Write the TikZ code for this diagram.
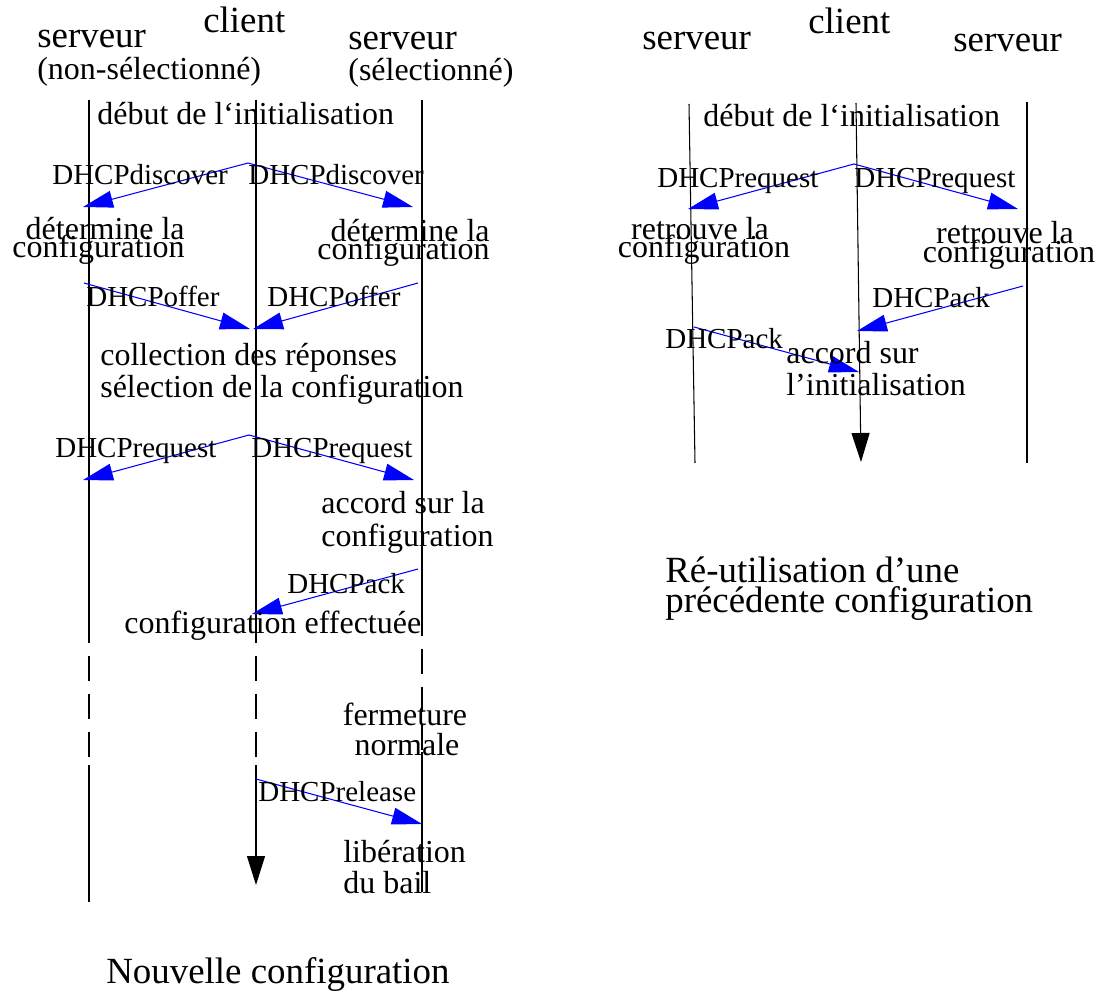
\documentclass[tikz,border=0pt]{standalone}
\usepackage{fontspec}
\setmainfont{Liberation Serif}
\usetikzlibrary{arrows.meta}

\begin{document}
\begin{tikzpicture}[x=0.02cm,y=-0.02cm,
		life/.style={line width=0.6pt,black},
		pointille/.style={dash pattern=on 0.5cm off 0.26cm,dash phase=0.5cm},
		msg/.style={blue,line width=0.6pt,-{Triangle[length=0.6cm,width=0.34cm]}},
		fin/.style={-{Triangle[length=0.58cm,width=0.36cm]}},
		grand/.style={inner sep=0pt,font=\fontsize{21}{25}\selectfont},
		moyen/.style={inner sep=0pt,font=\fontsize{18.2}{22}\selectfont},
		petit/.style={inner sep=0pt,font=\fontsize{16.5}{20}\selectfont}]
		\useasboundingbox (0,0) rectangle (1099,993);
		% nouvelle configuration : lignes de vie
		\coordinate (ns top) at (89,100);   \coordinate (ns d1) at (89,643);
		\coordinate (ns d2) at (89,765);    \coordinate (ns bot) at (89,902);
		\coordinate (nc top) at (256,100);  \coordinate (nc d1) at (256,643);
		\coordinate (nc d2) at (256,765);   \coordinate (nc bot) at (256,885);
		\coordinate (ss top) at (422,100);  \coordinate (ss d1) at (422,636);
		\coordinate (ss d2) at (422,752);   \coordinate (ss bot) at (422,892);
		\draw[life] (ns top) -- (ns d1);
		\draw[life,pointille] (ns d1) -- (ns d2);
		\draw[life] (ns d2) -- (ns bot);
		\draw[life] (nc top) -- (nc d1);
		\draw[life,pointille] (nc d1) -- (nc d2);
		\draw[life,fin] (nc d2) -- (nc bot);
		\draw[life] (ss top) -- (ss d1);
		\draw[life,pointille] (ss d1) -- (ss d2);
		\draw[life] (ss d2) -- (ss bot);
		% nouvelle configuration : messages
		\coordinate (disc) at (248,163); \coordinate (disc l) at (83,207); \coordinate (disc r) at (413,207);
		\coordinate (off l) at (84,283);  \coordinate (off lc) at (250,329);
		\coordinate (off r) at (418,283); \coordinate (off rc) at (253,329);
		\coordinate (req) at (249,435); \coordinate (req l) at (83,480); \coordinate (req r) at (414,480);
		\coordinate (ack) at (418,569); \coordinate (ack c) at (252,614);
		\coordinate (rel) at (256,779); \coordinate (rel s) at (422,824);
		\draw[msg] (disc) -- (disc l);
		\draw[msg] (disc) -- (disc r);
		\draw[msg] (off l) -- (off lc);
		\draw[msg] (off r) -- (off rc);
		\draw[msg] (req) -- (req l);
		\draw[msg] (req) -- (req r);
		\draw[msg] (ack) -- (ack c);
		\draw[msg] (rel) -- (rel s);
		% nouvelle configuration : textes
		\node[grand,anchor=base west] (t ns) at (37,48) {serveur};
		\node[moyen,anchor=base west] (t ns2) at (37,80) {(non-sélectionné)};
		\node[grand,anchor=base west] (t nc) at (203,33) {client};
		\node[grand,anchor=base west] (t ss) at (348,50) {serveur};
		\node[moyen,anchor=base west] (t ss2) at (348,81) {(sélectionné)};
		\node[moyen,anchor=base west] (t debut) at (97,125) {début de l`initialisation};
		\node[petit,anchor=base west] (l disc1) at (52,185) {DHCPdiscover};
		\node[petit,anchor=base west] (l disc2) at (248,185) {DHCPdiscover};
		\node[moyen,anchor=base east] (t det1) at (185,240) {détermine la};
		\node[moyen,anchor=base east] (t det2) at (185,258) {configuration};
		\node[moyen,anchor=base east] (t det3) at (490,242) {détermine la};
		\node[moyen,anchor=base east] (t det4) at (490,260) {configuration};
		\node[petit,anchor=base west] (l off1) at (86,307) {DHCPoffer};
		\node[petit,anchor=base west] (l off2) at (267,307) {DHCPoffer};
		\node[moyen,anchor=base west] (t coll) at (100,365) {collection des réponses};
		\node[moyen,anchor=base west] (t sel) at (100,397) {sélection de la configuration};
		\node[petit,anchor=base west] (l req1) at (55,457) {DHCPrequest};
		\node[petit,anchor=base west] (l req2) at (251,457) {DHCPrequest};
		\node[moyen,anchor=base west] (t acc1) at (321,513) {accord sur la};
		\node[moyen,anchor=base west] (t acc2) at (321,546) {configuration};
		\node[petit,anchor=base west] (l ack) at (287,593) {DHCPack};
		\node[moyen,anchor=base west] (t eff) at (124,633) {configuration effectuée};
		\node[moyen,anchor=base] (t ferm1) at (405,725) {fermeture};
		\node[moyen,anchor=base] (t ferm2) at (407,755) {normale};
		\node[petit,anchor=base west] (l rel) at (258,801) {DHCPrelease};
		\node[moyen,anchor=base west] (t lib1) at (343,862) {libération};
		\node[moyen,anchor=base west] (t lib2) at (343,893) {du bail};
		\node[grand,anchor=base west] (titre1) at (106,983) {Nouvelle configuration};
		% re-utilisation : lignes de vie
		\coordinate (rs top) at (689,104);  \coordinate (rs bot) at (695,463);
		\coordinate (rc top) at (856,103);  \coordinate (rc bot) at (861,462);
		\coordinate (rt top) at (1027,102); \coordinate (rt bot) at (1027,463);
		\draw[life] (rs top) -- (rs bot);
		\draw[life,fin] (rc top) -- (rc bot);
		\draw[life] (rt top) -- (rt bot);
		% re-utilisation : messages
		\coordinate (rreq) at (854,164); \coordinate (rreq l) at (688,209); \coordinate (rreq r) at (1018,209);
		\coordinate (rack r) at (1023,286); \coordinate (rack rc) at (857,331);
		\coordinate (rack l) at (694,327);  \coordinate (rack lc) at (859,372);
		\draw[msg] (rreq) -- (rreq l);
		\draw[msg] (rreq) -- (rreq r);
		\draw[msg] (rack r) -- (rack rc);
		\draw[msg] (rack l) -- (rack lc);
		% re-utilisation : textes
		\node[grand,anchor=base west] (u rs) at (642,50) {serveur};
		\node[grand,anchor=base west] (u rc) at (808,34) {client};
		\node[grand,anchor=base west] (u rt) at (953,52) {serveur};
		\node[moyen,anchor=base west] (u debut) at (703,127) {début de l`initialisation};
		\node[petit,anchor=base west] (m req1) at (657,188) {DHCPrequest};
		\node[petit,anchor=base west] (m req2) at (854,188) {DHCPrequest};
		\node[moyen,anchor=base] (u ret1) at (700,240) {retrouve la};
		\node[moyen,anchor=base] (u ret2) at (704,258) {configuration};
		\node[moyen,anchor=base] (u ret3) at (1005,244) {retrouve la};
		\node[moyen,anchor=base] (u ret4) at (1009,263) {configuration};
		\node[petit,anchor=base west] (m ack1) at (872,308) {DHCPack};
		\node[petit,anchor=base west] (m ack2) at (665,348) {DHCPack};
		\node[moyen,anchor=base west] (u acc1) at (786,363) {accord sur};
		\node[moyen,anchor=base west] (u acc2) at (786,395) {l'initialisation};
		\node[grand,anchor=base west] (titre2a) at (665,582) {Ré-utilisation d'une};
		\node[grand,anchor=base west] (titre2b) at (665,612) {précédente configuration};
	\end{tikzpicture}
\end{document}
